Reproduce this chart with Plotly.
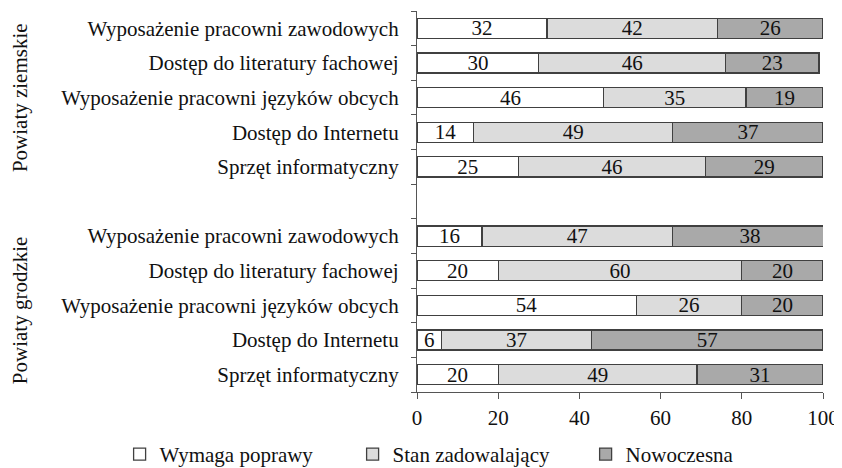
import plotly.graph_objects as go

groups = ["Powiaty ziemskie", "Powiaty grodzkie"]
categories = [
    "Wyposażenie pracowni zawodowych",
    "Dostęp do literatury fachowej",
    "Wyposażenie pracowni języków obcych",
    "Dostęp do Internetu",
    "Sprzęt informatyczny",
]
series_names = ["Wymaga poprawy", "Stan zadowalający", "Nowoczesna"]
ziemskie = {
    "Wymaga poprawy": [32, 30, 46, 14, 25],
    "Stan zadowalający": [42, 46, 35, 49, 46],
    "Nowoczesna": [26, 23, 19, 37, 29],
}
grodzkie = {
    "Wymaga poprawy": [16, 20, 54, 6, 20],
    "Stan zadowalający": [47, 60, 26, 37, 49],
    "Nowoczesna": [38, 20, 20, 57, 31],
}
colors = ["#ffffff", "#dcdcdc", "#a9a9a9"]
x_ticks = [0, 20, 40, 60, 80, 100]

FONT = "Liberation Serif"
TXT = "#111111"
n = len(categories)
total_slots = 2 * n + 1
pos_g1 = [total_slots - 1 - i for i in range(n)]
pos_g2 = [n - 1 - i for i in range(n)]
ypos = pos_g1 + pos_g2
ylabels = categories + categories

fig = go.Figure()
for s, c in zip(series_names, colors):
    vals = ziemskie[s] + grodzkie[s]
    fig.add_trace(go.Bar(
        x=vals, y=ypos, orientation="h", name=s,
        marker=dict(color=c, line=dict(color="#404040", width=1.3)),
        width=0.58,
        text=[str(v) for v in vals], textposition="inside", textangle=0,
        insidetextanchor="middle", constraintext="none",
        textfont=dict(family=FONT, size=21, color=TXT),
        hoverinfo="skip",
    ))

# page body has an 8px default margin, so the figure is sized to fit the window
fig.update_layout(
    barmode="stack",
    width=834, height=460,
    margin=dict(l=409, r=19, t=3, b=76, autoexpand=False),
    plot_bgcolor="white", paper_bgcolor="white",
    font=dict(family=FONT, size=21, color=TXT),
    showlegend=True,
    legend=dict(orientation="h", x=-0.7325, xanchor="left", y=-0.110, yanchor="top",
                entrywidth=188, entrywidthmode="pixels",
                font=dict(family=FONT, size=21, color=TXT),
                itemclick=False, traceorder="normal"),
)
fig.update_xaxes(
    range=[0, 100], tickvals=x_ticks, ticks="outside", ticklen=6,
    tickcolor="#555555", showline=True, linecolor="#555555", linewidth=1.2,
    showgrid=False, zeroline=False, ticklabelstandoff=1, automargin=False,
    tickfont=dict(family=FONT, size=21, color=TXT),
)
fig.update_yaxes(
    range=[-0.5, total_slots - 0.5], tickvals=ypos, ticktext=ylabels,
    ticks="", showline=True, linecolor="#555555", linewidth=1.2,
    showgrid=False, zeroline=False, ticklabelstandoff=13, automargin=False,
    tickfont=dict(family=FONT, size=21, color=TXT),
    minor=dict(tickmode="array", tickvals=[p - 0.5 for p in range(total_slots + 1)],
               ticks="outside", ticklen=5, tickcolor="#555555", showgrid=False),
)
centers = [sum(pos_g1) / n, sum(pos_g2) / n - 0.15]
for g, yc in zip(groups, centers):
    fig.add_annotation(
        text=g, textangle=-90, xref="paper", yref="y", x=-0.979, y=yc,
        xanchor="center", yanchor="middle", showarrow=False,
        font=dict(family=FONT, size=21, color=TXT),
    )

fig.write_html("out.html")
